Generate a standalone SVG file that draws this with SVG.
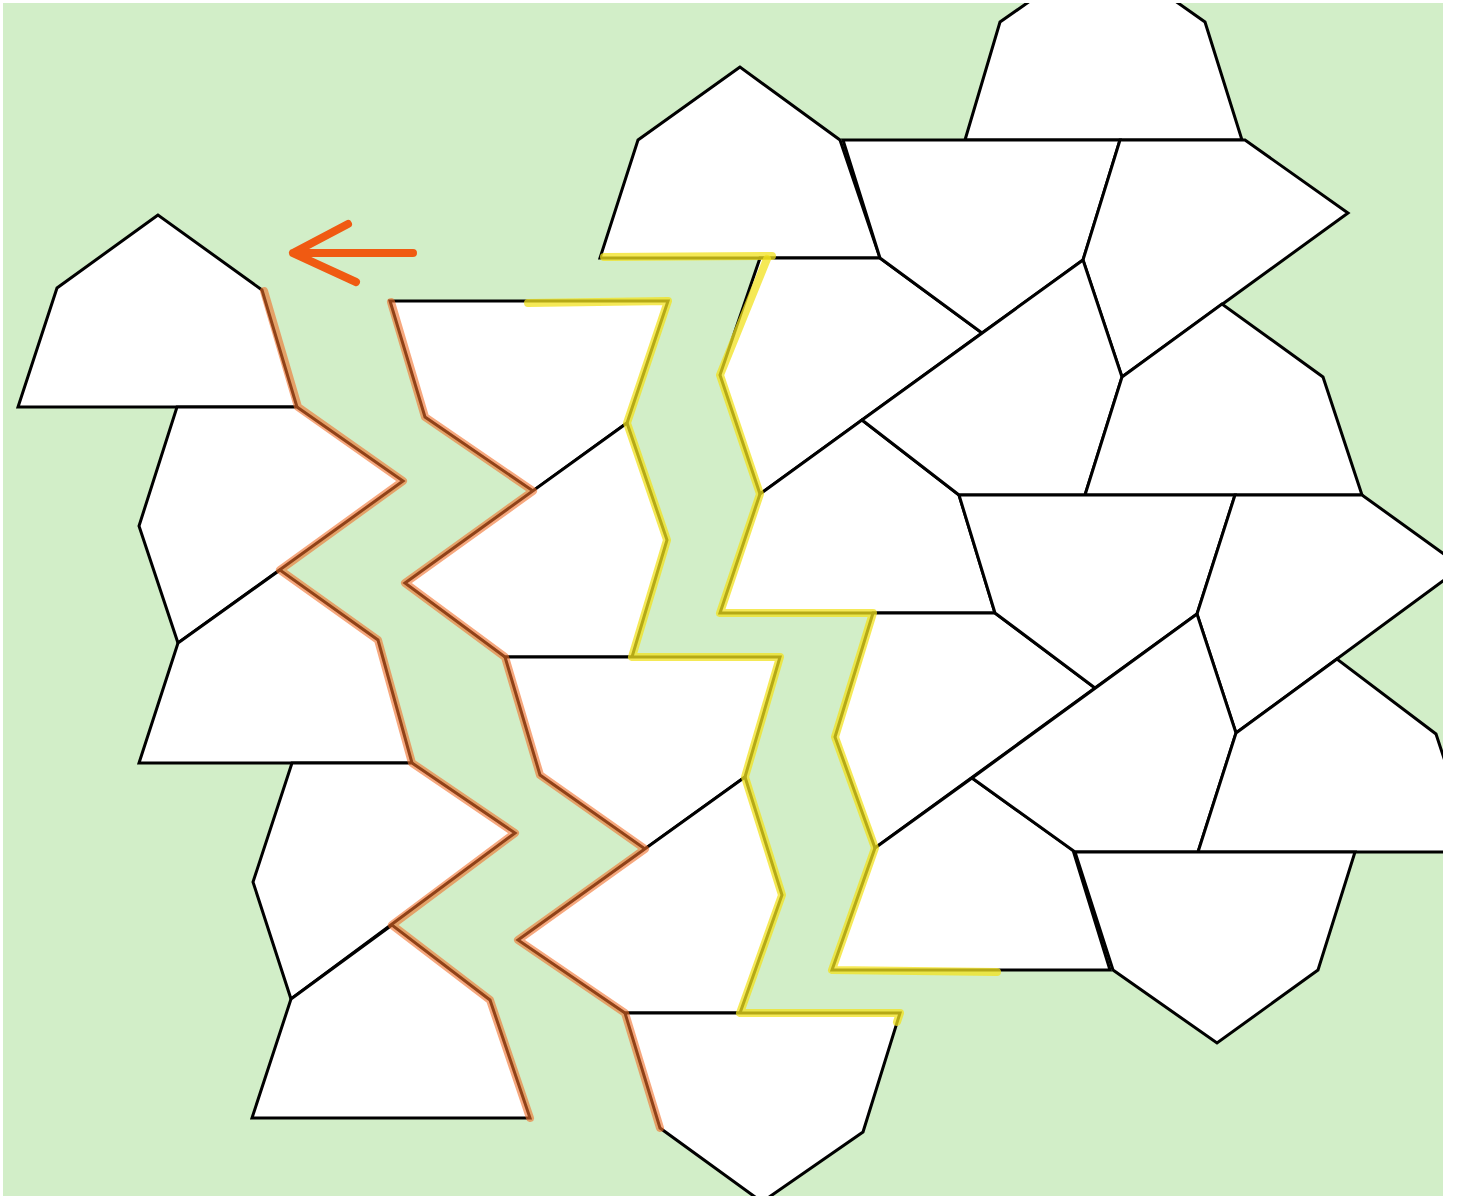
<svg xmlns="http://www.w3.org/2000/svg" width="1457" height="1196" viewBox="0 0 1457 1196">
<style>
.tile{fill:#ffffff;stroke:#000000;stroke-width:3;stroke-linejoin:miter}
.hlo{fill:none;stroke:#f06e28;stroke-opacity:0.6;stroke-width:8;stroke-linejoin:round;stroke-linecap:round}
.hly{fill:none;stroke:#f2e21e;stroke-opacity:0.75;stroke-width:8;stroke-linejoin:round;stroke-linecap:round}
.arrow{fill:none;stroke:#f05a12;stroke-width:8;stroke-linecap:round;stroke-linejoin:round}
</style>
<defs>
<clipPath id="frame"><rect x="3" y="3" width="1440" height="1193"/></clipPath>
</defs>
<rect x="0" y="0" width="1457" height="1196" fill="#ffffff"/>
<rect x="3" y="3" width="1440" height="1193" fill="#d2eec8"/>
<g clip-path="url(#frame)">
<g id="P1"><polygon class="tile" points="158,215 57,288 18,407 297,407 262,290"/></g>
<g id="P2"><polygon class="tile" points="177,407 297,407 403,481 178,643 139,526"/></g>
<g id="P3"><polygon class="tile" points="280,570 178,643 139,763 412,763 378,640"/></g>
<g id="P4"><polygon class="tile" points="292,763 412,763 515,833 291,999 253,882"/></g>
<g id="P5"><polygon class="tile" points="392,925 291,999 252,1118 530,1118 490,1000"/></g>
<g id="Q1"><polygon class="tile" points="390,301 668,301 627,423 533,491 425,417"/></g>
<g id="Q2"><polygon class="tile" points="405,583 627,423 667,540 632,657 505,657"/></g>
<g id="Q3"><polygon class="tile" points="505,657 780,657 745,777 645,849 540,775"/></g>
<g id="Q4"><polygon class="tile" points="518,940 745,777 782,895 740,1013 625,1013"/></g>
<g id="Q5"><polygon class="tile" points="625,1013 900,1013 863,1132 762,1202 660,1128"/></g>
<g id="R1"><polygon class="tile" points="740,67 638,140 600,258 880,258 840,140"/></g>
<g id="R2"><polygon class="tile" points="760,258 880,258 982,333 760,494 720,375"/></g>
<g id="R3"><polygon class="tile" points="862,420 760,494 720,613 995,613 959,495"/></g>
<g id="R4"><polygon class="tile" points="873,613 995,613 1095,688 875,848 835,737"/></g>
<g id="R5"><polygon class="tile" points="972,778 875,848 832,970 1110,970 1073,850"/></g>
<g id="S0"><polygon class="tile" points="965,140 1000,22 1103,-50 1205,22 1242,140"/></g>
<g id="S1"><polygon class="tile" points="843,140 1120,140 1083,260 982,333 880,258"/></g>
<g id="S2"><polygon class="tile" points="1120,140 1245,140 1348,213 1122,377 1083,260"/></g>
<g id="S3"><polygon class="tile" points="862,420 1083,260 1122,377 1085,495 959,495"/></g>
<g id="S4"><polygon class="tile" points="1222,304 1122,377 1085,495 1362,495 1323,377"/></g>
<g id="S5"><polygon class="tile" points="959,495 1235,495 1197,614 1095,688 995,613"/></g>
<g id="S6"><polygon class="tile" points="1235,495 1362,495 1462,567 1236,733 1197,614"/></g>
<g id="S7"><polygon class="tile" points="972,778 1197,614 1236,733 1198,852 1075,852"/></g>
<g id="S8"><polygon class="tile" points="1337,659 1236,733 1198,852 1475,852 1436,734"/></g>
<g id="S9"><polygon class="tile" points="1075,852 1355,852 1318,970 1217,1043 1113,970"/></g>
<g id="highlights">
<polyline class="hlo" points="264,291 298,407 403,481 280,570 378,640 412,763 515,833 392,925 490,1000 530,1118"/>
<polyline class="hlo" points="391,302 425,417 533,491 405,583 505,657 540,775 645,849 518,940 625,1013 660,1128"/>
<polyline class="hly" points="528,303 668,301 627,423 667,540 632,657 780,657 745,777 782,895 740,1013 900,1013 897,1022"/>
<polyline class="hly" points="604,257 772,256"/>
<polyline class="hly" points="767,259 720,375 760,494 720,613 873,613 835,737 875,848 832,970 997,972"/>
</g>
</g>
<g id="arrow">
<path class="arrow" d="M413,253 L293,253 M348,224 L293,253 L356,282"/>
</g>
</svg>
